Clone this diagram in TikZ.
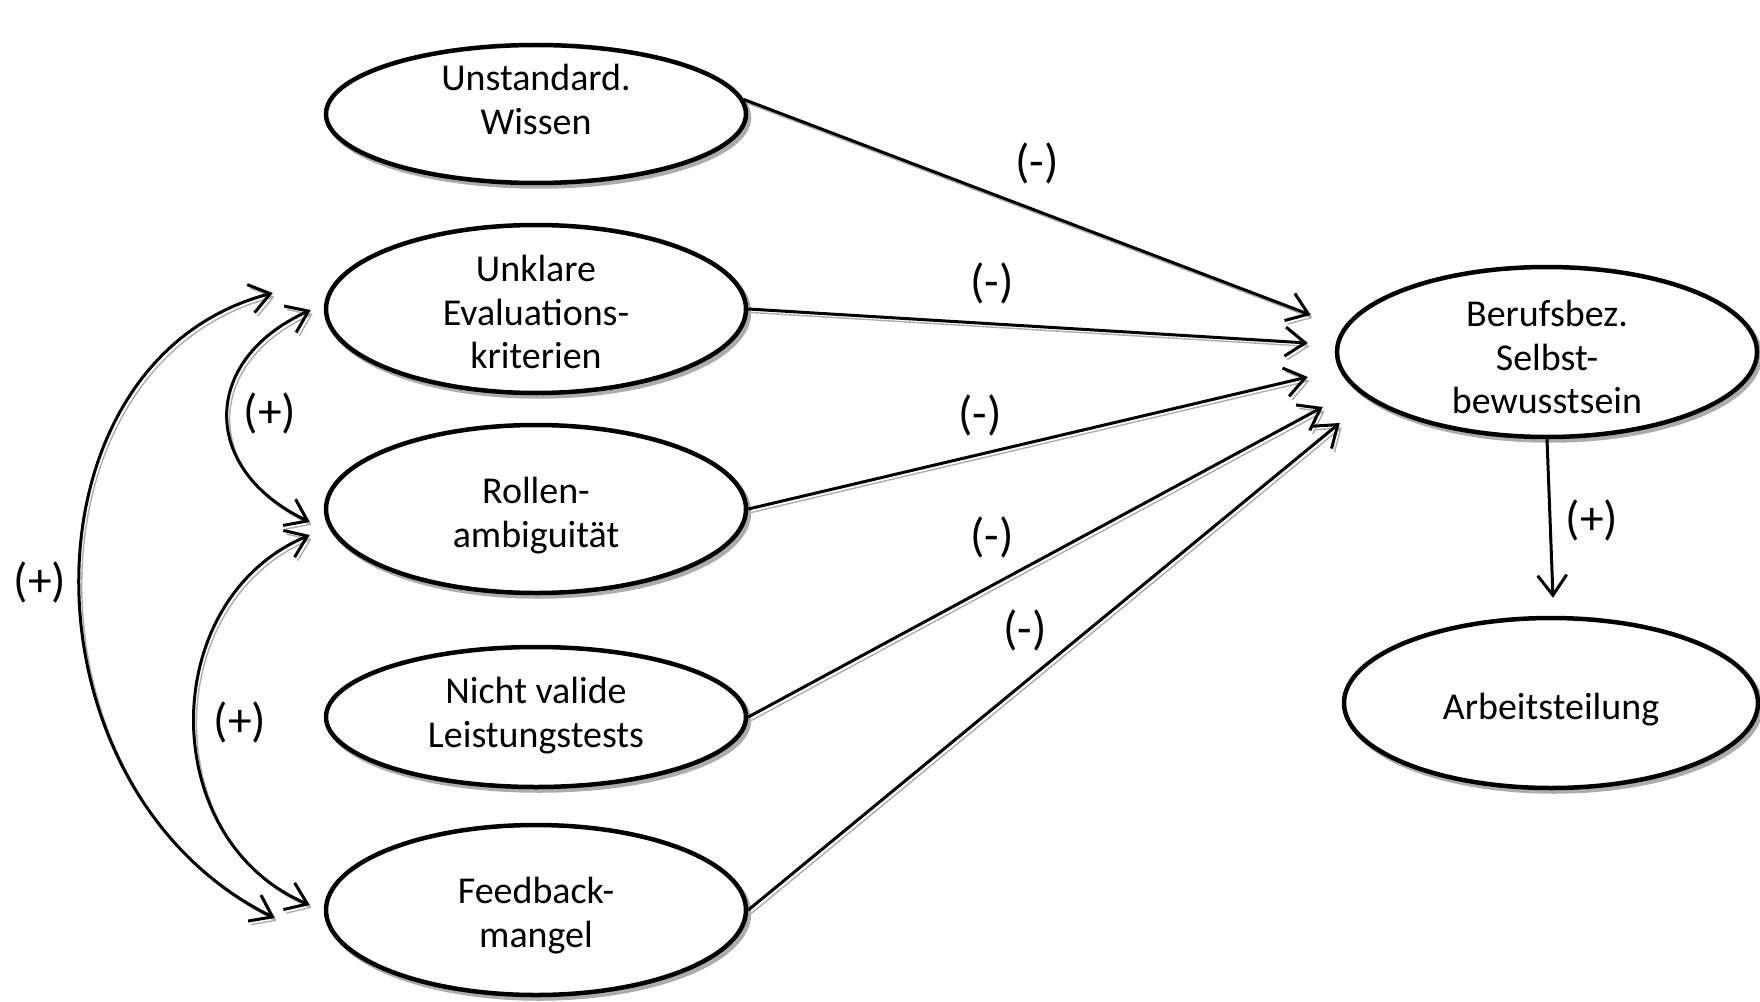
\documentclass[tikz,border=0pt]{standalone}
\usepackage{fontspec}
\setmainfont{Carlito}
\usetikzlibrary{arrows.meta,shapes.geometric,shadows,calc}
\begin{document}
\begin{tikzpicture}[x=0.1mm,y=-0.1mm,
  shd/.style={general shadow={draw=gray!65, fill=none, shadow xshift=0.3mm, shadow yshift=-0.35mm}},
  txt/.style={font=\fontsize{10.8pt}{12.5pt}\selectfont},
  var/.style={ellipse, draw, line width=0.45mm, fill=white, shd, minimum width=42mm,
    inner sep=0pt},
  vtext/.style={txt, align=center, inner sep=0pt},
  arr/.style={line width=0.3mm, -{Straight Barb[length=2mm,width=2.9mm]}, shd},
  plainarr/.style={line width=0.3mm, -{Straight Barb[length=2mm,width=2.9mm]}},
  biarr/.style={line width=0.3mm, {Straight Barb[length=2mm,width=2.9mm]}-{Straight Barb[length=2mm,width=2.9mm]}, shd},
  lab/.style={font=\fontsize{13.5pt}{15pt}\selectfont, inner sep=0pt}
]
\useasboundingbox (0,0) rectangle (1760,1001);

% variables
\node[var, minimum height=13.8mm, label={[vtext, yshift=1.5mm]center:Unstandard.\\Wissen}] (u) at (536,114) {};
\node[var, minimum height=16.8mm, label={[vtext, yshift=-0.3mm]center:Unklare\\Evaluations-\\kriterien}] (e) at (536,309) {};
\node[var, minimum height=16.8mm, label={[vtext, yshift=-0.7mm]center:Rollen-\\ambiguität}] (r) at (536,509) {};
\node[var, minimum height=14mm, label={[vtext, yshift=0.1mm]center:Nicht valide\\Leistungstests}] (n) at (536,717) {};
\node[var, minimum height=17mm, label={[vtext, yshift=-0.6mm]center:Feedback-\\mangel}] (f) at (536,910) {};
\node[var, minimum height=17mm, label={[vtext, yshift=-0.5mm]center:Berufsbez.\\Selbst-\\bewusstsein}] (b) at (1547,352) {};
\node[var, minimum height=17mm, minimum width=41.4mm, label={[vtext, yshift=-0.7mm]center:Arbeitsteilung}] (a) at (1551,703) {};

% arrow tips near Berufsbez.
\coordinate (t1) at ($(b.west)+(-24,-37)$);
\coordinate (t2) at ($(b.west)+(-27,-9)$);
\coordinate (t3) at ($(b.west)+(-27,25)$);
\coordinate (t4) at ($(b.west)+(-12,55)$);
\coordinate (t5) at ($(b.west)+(5,71)$);
\coordinate (ta) at ($(a.north)+(2,-18)$);

% ends of the curved arrows
\coordinate (oA) at ($(e.west)+(-51,-16)$);
\coordinate (oB) at ($(f.west)+(-49,8)$);
\coordinate (iA) at ($(e.west)+(-13,1)$);
\coordinate (iB) at ($(r.west)+(-14,13)$);
\coordinate (jA) at ($(r.west)+(-14,26)$);
\coordinate (jB) at ($(f.west)+(-14,-5)$);

% straight arrows
\draw[arr] (u.4) -- (t1);
\draw[arr] (e.east) -- (t2);
\draw[arr] (r.east) -- (t3);
\draw[arr] (n.east) -- (t4);
\draw[arr] (f.east) -- (t5);
\draw[plainarr] (b.south) -- (ta);

% curved double arrows
\draw[biarr] (oA) .. controls (15,360) and (15,790) .. (oB);
\draw[biarr] (iA) .. controls (200,360) and (200,470) .. (iB);
\draw[biarr] (jA) .. controls (156,600) and (156,840) .. (jB);

% labels
\node[lab] (l1) at (1037,163) {(-)};
\node[lab] (l2) at (992,283) {(-)};
\node[lab] (l3) at (980,415) {(-)};
\node[lab] (l4) at (992,537) {(-)};
\node[lab] (l5) at (1025,630) {(-)};
\node[lab] (p1) at (40,582) {(+)};
\node[lab] (p2) at (270,413) {(+)};
\node[lab] (p3) at (240,722) {(+)};
\node[lab] (p4) at (1592,520) {(+)};
\end{tikzpicture}
\end{document}
